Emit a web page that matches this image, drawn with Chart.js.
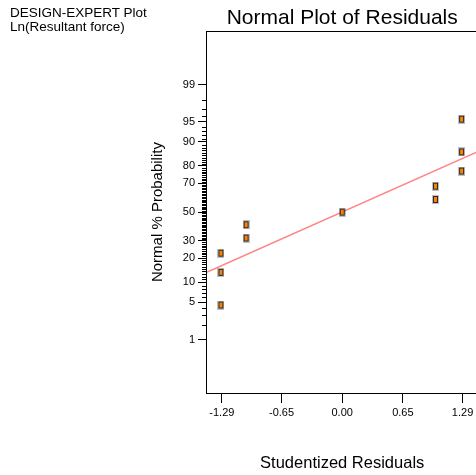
<!DOCTYPE html>
<html>
<head>
<meta charset="utf-8">
<script src="https://cdn.jsdelivr.net/npm/chart.js@4.4.0/dist/chart.umd.min.js"></script>
<style>
  html, body { margin: 0; padding: 0; background: #fff; overflow: hidden; }
  #wrap { position: relative; width: 476px; height: 475px; overflow: hidden; }
  #chartCanvas { position: absolute; left: 0; top: 0; }
  #note { position: absolute; left: 10px; top: 6px; font: 13.5px "Liberation Sans", Arial, sans-serif; line-height: 14px; color: #000; }
</style>
</head>
<body>
<div id="wrap">
  <canvas id="chartCanvas" width="490" height="475"></canvas>
  <div id="note">DESIGN-EXPERT Plot<br>Ln(Resultant force)</div>
</div>
<script>
// studentized residuals and their normal % probability
var residuals = [-1.30, -1.30, -1.30, -1.03, -1.03, 0.00, 1.00, 1.00, 1.28, 1.28, 1.28];
var probabilities = [4.5, 13.6, 22.7, 31.8, 40.9, 50.0, 59.1, 68.2, 77.3, 86.4, 95.5];

// reference line end points
var lineX = [-1.46, 1.46];
var lineProb = [13.5, 86.6];

var xTicks = [-1.29, -0.65, 0.00, 0.65, 1.29];
var probTicks = [1, 5, 10, 20, 30, 50, 70, 80, 90, 95, 99];

var FONT = '"Liberation Sans", Arial, sans-serif';

// inverse normal cdf (Acklam), used as the probability axis transform
function probit(p) {
  var a = [-3.969683028665376e+01, 2.209460984245205e+02, -2.759285104469687e+02, 1.383577518672690e+02, -3.066479806614716e+01, 2.506628277459239e+00];
  var b = [-5.447609879822406e+01, 1.615858368580409e+02, -1.556989798598866e+02, 6.680131188771972e+01, -1.328068155288572e+01];
  var c = [-7.784894002430293e-03, -3.223964580411365e-01, -2.400758277161838e+00, -2.549732539343734e+00, 4.374664141464968e+00, 2.938163982698783e+00];
  var d = [7.784695709041462e-03, 3.224671290700398e-01, 2.445134137142996e+00, 3.754408661907416e+00];
  var plow = 0.02425, q, r;
  if (p < plow) {
    q = Math.sqrt(-2 * Math.log(p));
    return (((((c[0]*q+c[1])*q+c[2])*q+c[3])*q+c[4])*q+c[5]) / ((((d[0]*q+d[1])*q+d[2])*q+d[3])*q+1);
  }
  if (p <= 1 - plow) {
    q = p - 0.5; r = q * q;
    return (((((a[0]*r+a[1])*r+a[2])*r+a[3])*r+a[4])*r+a[5])*q / (((((b[0]*r+b[1])*r+b[2])*r+b[3])*r+b[4])*r+1);
  }
  q = Math.sqrt(-2 * Math.log(1 - p));
  return -(((((c[0]*q+c[1])*q+c[2])*q+c[3])*q+c[4])*q+c[5]) / ((((d[0]*q+d[1])*q+d[2])*q+d[3])*q+1);
}

// small tall orange marker
function makeMarker() {
  var m = document.createElement('canvas');
  m.width = 7; m.height = 9;
  var g = m.getContext('2d');
  g.fillStyle = 'rgba(0,0,0,0.25)';
  g.fillRect(0, 0, 7, 9);
  g.fillStyle = '#2a2a2a';
  g.fillRect(1, 1, 5, 7);
  g.fillStyle = '#ff8000';
  g.fillRect(2, 2, 3, 5);
  return m;
}

var frame = {
  id: 'frame',
  afterDraw: function(chart) {
    var ctx = chart.ctx, a = chart.chartArea, y = chart.scales.y;
    ctx.save();
    ctx.strokeStyle = '#000';
    ctx.lineWidth = 1;
    ctx.strokeRect(Math.round(a.left) + 0.5, Math.round(a.top) + 0.5, Math.round(a.right - a.left), Math.round(a.bottom - a.top));
    // minor ticks at every whole percent
    ctx.beginPath();
    for (var p = 1; p <= 99; p++) {
      if (probTicks.indexOf(p) >= 0) continue;
      var py = Math.round(y.getPixelForValue(probit(p / 100))) + 0.5;
      ctx.moveTo(a.left - 4, py);
      ctx.lineTo(a.left, py);
    }
    ctx.stroke();
    ctx.restore();
  }
};

new Chart(document.getElementById('chartCanvas'), {
  type: 'scatter',
  data: {
    datasets: [
      {
        type: 'line',
        data: lineX.map(function(x, i) { return { x: x, y: probit(lineProb[i] / 100) }; }),
        borderColor: '#ff8080',
        borderWidth: 1.5,
        pointRadius: 0,
        fill: false,
        order: 2
      },
      {
        type: 'scatter',
        data: residuals.map(function(x, i) { return { x: x, y: probit(probabilities[i] / 100) }; }),
        pointStyle: makeMarker(),
        pointRadius: 4,
        order: 1
      }
    ]
  },
  options: {
    responsive: false,
    animation: false,
    events: [],
    layout: { padding: { left: 0, right: 11.6, top: 0, bottom: 0 } },
    plugins: {
      legend: { display: false },
      tooltip: { enabled: false },
      title: {
        display: true,
        text: 'Normal Plot of Residuals',
        fullSize: false,
        color: '#000',
        font: { family: FONT, size: 21, weight: 'normal', lineHeight: 1.2 },
        padding: { top: 6, bottom: 0 }
      }
    },
    scales: {
      x: {
        type: 'linear',
        min: -1.46,
        max: 1.46,
        afterFit: function(s) { s.height = 82; },
        afterBuildTicks: function(s) { s.ticks = xTicks.map(function(v) { return { value: v }; }); },
        grid: { drawOnChartArea: false, tickLength: 10, color: '#000', tickColor: '#000' },
        border: { display: false },
        ticks: {
          autoSkip: false, maxRotation: 0, color: '#000', padding: 3,
          font: { family: FONT, size: 11 },
          callback: function(v) { return v.toFixed(2); }
        },
        title: {
          display: true, text: 'Studentized Residuals', color: '#000',
          font: { family: FONT, size: 16.5, lineHeight: 1.2 },
          padding: { top: 0, bottom: 2 }
        }
      },
      y: {
        type: 'linear',
        min: -3.3,
        max: 3.3,
        afterFit: function(s) { s.width = 206; },
        afterBuildTicks: function(s) { s.ticks = probTicks.map(function(p) { return { value: probit(p / 100) }; }); },
        grid: { drawOnChartArea: false, tickLength: 8, color: '#000', tickColor: '#000' },
        border: { display: false },
        ticks: {
          autoSkip: false, color: '#000', padding: 3,
          font: { family: FONT, size: 11 },
          callback: function(v, i) { return String(probTicks[i]); }
        },
        title: {
          display: true, text: 'Normal % Probability', color: '#000',
          font: { family: FONT, size: 15, lineHeight: 1.2 },
          padding: { top: 149, bottom: 0 }
        }
      }
    }
  },
  plugins: [frame]
});
</script>
</body>
</html>
